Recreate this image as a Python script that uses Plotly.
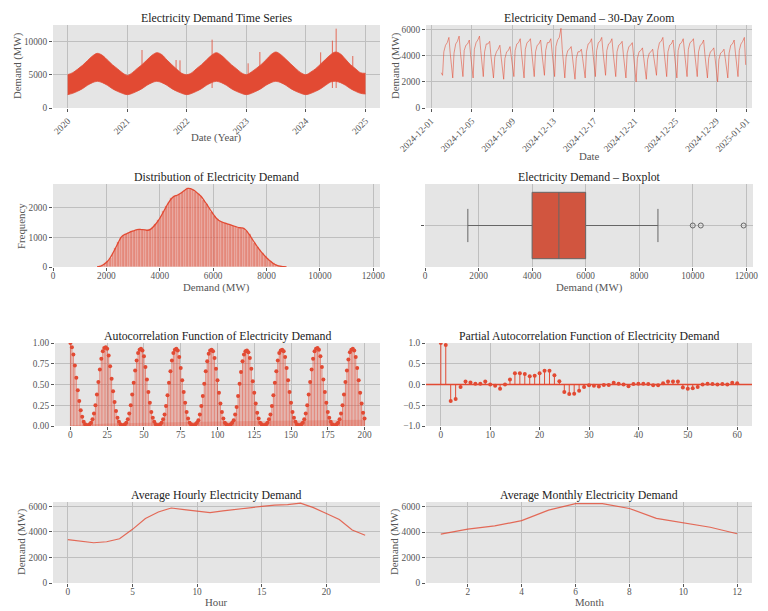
import numpy as np
import pandas as pd
import plotly.graph_objects as go
from plotly.subplots import make_subplots

# ---- data ----
# full time series: monthly envelope (first of each month, Jan 2020 .. Jan 2025)
env_months = pd.date_range("2020-01-01", "2025-01-01", freq="MS")
env_upper = [5000, 5300, 5800, 6400, 7100, 7800, 8200, 7900, 7200, 6500, 5900, 5300,
             4900, 5300, 5900, 6500, 7200, 7900, 8300, 8000, 7200, 6500, 5800, 5200,
             5000, 5300, 5900, 6500, 7200, 7900, 8300, 7900, 7200, 6500, 5900, 5300,
             5000, 5400, 5900, 6500, 7200, 8000, 8400, 8000, 7300, 6600, 5900, 5300,
             5000, 5400, 5900, 6600, 7300, 8000, 8400, 8100, 7300, 6500, 5900, 5300,
             5200]
env_lower = [2000, 2200, 2500, 2900, 3400, 3800, 4000, 3800, 3400, 2900, 2500, 2200,
             2000, 2200, 2500, 2900, 3400, 3800, 4000, 3800, 3400, 2900, 2500, 2200,
             2000, 2200, 2500, 2900, 3400, 3800, 4000, 3800, 3400, 2900, 2500, 2200,
             2000, 2200, 2500, 2900, 3400, 3800, 4000, 3800, 3400, 2900, 2500, 2200,
             2000, 2200, 2500, 2900, 3400, 3900, 4000, 3800, 3400, 2900, 2500, 2200,
             2100]
spike_dates = ["2021-04-01", "2021-10-27", "2021-11-20", "2022-06-05", "2023-01-12",
               "2023-03-25", "2024-04-01", "2024-06-12", "2024-07-05", "2024-10-15"]
spike_values = [8700, 7200, 7150, 10250, 6700, 8400, 8350, 10100, 11900, 7800]
year_ticks = ["2020", "2021", "2022", "2023", "2024", "2025"]

# 30-day zoom: per day readings at hours 0, 3, 6, 10, 14, 18, 21
zoom_first_day = "2024-12-02"
zoom_hours = [0, 3, 6, 10, 14, 18, 21]
zoom_days = [
    [2700, 2500, 4300, 4800, 5000, 5400, 4200],
    [3100, 2300, 4200, 4900, 5100, 5500, 4300],
    [3200, 2400, 4400, 4800, 4900, 5200, 4100],
    [3000, 2300, 4500, 5000, 5200, 5500, 4400],
    [3100, 2400, 4300, 4900, 4900, 5100, 4000],
    [2900, 2300, 3900, 4300, 4500, 4800, 3900],
    [2800, 2200, 3800, 4300, 4400, 4700, 3900],
    [3000, 2400, 4400, 4900, 5000, 5300, 4200],
    [3100, 2300, 4500, 5000, 5100, 5300, 4300],
    [3000, 2400, 4300, 4800, 4900, 5200, 4200],
    [3100, 2500, 4400, 5000, 5000, 5300, 4300],
    [3200, 2400, 4700, 5200, 5400, 6100, 4500],
    [3100, 2300, 3900, 4400, 4500, 4700, 3900],
    [2900, 2200, 3800, 4300, 4300, 4500, 3800],
    [2900, 2300, 4300, 4900, 5000, 5300, 4300],
    [3100, 2400, 4400, 5000, 5100, 5400, 4300],
    [3100, 2500, 4400, 4900, 5000, 5300, 4200],
    [3000, 2400, 4300, 4800, 4900, 5100, 4100],
    [3000, 2300, 4200, 4700, 4800, 5000, 4000],
    [2800, 2000, 3800, 4300, 4400, 4600, 3800],
    [2900, 2200, 3700, 4200, 4300, 4500, 3800],
    [3000, 2500, 4400, 5000, 5100, 5400, 4300],
    [3100, 2400, 4300, 4800, 4900, 5200, 4200],
    [3100, 2300, 4400, 4900, 5000, 5300, 4300],
    [3000, 2400, 4500, 5000, 5100, 5300, 4200],
    [3100, 2400, 4300, 4800, 4900, 5200, 4100],
    [2900, 2300, 3800, 4300, 4400, 4600, 3800],
    [2800, 2000, 3700, 4200, 4300, 4500, 3800],
    [2900, 2300, 4200, 4800, 4900, 5200, 4200],
    [3000, 2400, 4400, 4900, 5100, 5400, 3300],
]
zoom_tick_dates = ["2024-12-01", "2024-12-05", "2024-12-09", "2024-12-13", "2024-12-17",
                   "2024-12-21", "2024-12-25", "2024-12-29", "2025-01-01"]

# histogram (bin width 100 MW, bins start at 1600)
hist_start = 1600
hist_width = 100
hist_counts = [0, 20, 60, 120, 200, 320, 480, 650, 830, 1000,
               1080, 1120, 1160, 1200, 1230, 1260, 1270, 1260, 1250, 1240,
               1270, 1350, 1450, 1570, 1720, 1880, 2050, 2200, 2320, 2390,
               2420, 2470, 2530, 2600, 2650, 2640, 2600, 2540, 2460, 2380,
               2260, 2130, 1990, 1850, 1720, 1620, 1550, 1510, 1480, 1450,
               1420, 1390, 1360, 1330, 1320, 1300, 1220, 1100, 960, 820,
               690, 570, 460, 360, 270, 190, 120, 70, 40, 20, 10, 5]
demand_ticks = [0, 2000, 4000, 6000, 8000, 10000, 12000]

# boxplot stats
box_q1, box_median, box_q3 = 4000, 5000, 6000
box_low, box_high = 1600, 8700
box_outliers = [10000, 10300, 11900]

# ACF, lags 0..200 (rows of 24 lags)
acf_vals = [
    1.00, 0.95, 0.86, 0.73, 0.58, 0.43, 0.30, 0.19, 0.11, 0.05, 0.02, 0.01, 0.01, 0.02, 0.04, 0.08, 0.15, 0.25, 0.38, 0.53, 0.68, 0.81, 0.90, 0.94,
    0.95, 0.93, 0.85, 0.72, 0.57, 0.42, 0.29, 0.18, 0.10, 0.05, 0.02, 0.01, 0.01, 0.02, 0.04, 0.08, 0.15, 0.25, 0.38, 0.52, 0.67, 0.79, 0.88, 0.92,
    0.93, 0.91, 0.84, 0.71, 0.56, 0.41, 0.28, 0.17, 0.10, 0.05, 0.02, 0.01, 0.01, 0.02, 0.04, 0.08, 0.14, 0.24, 0.37, 0.52, 0.66, 0.79, 0.88, 0.92,
    0.93, 0.91, 0.83, 0.70, 0.55, 0.41, 0.28, 0.17, 0.09, 0.04, 0.02, 0.01, 0.01, 0.02, 0.04, 0.07, 0.14, 0.24, 0.36, 0.51, 0.66, 0.78, 0.87, 0.91,
    0.92, 0.90, 0.82, 0.69, 0.55, 0.40, 0.27, 0.17, 0.09, 0.04, 0.02, 0.01, 0.01, 0.02, 0.04, 0.07, 0.14, 0.23, 0.36, 0.51, 0.65, 0.78, 0.86, 0.90,
    0.91, 0.89, 0.82, 0.69, 0.54, 0.40, 0.27, 0.16, 0.09, 0.04, 0.02, 0.01, 0.01, 0.02, 0.04, 0.08, 0.14, 0.24, 0.37, 0.52, 0.66, 0.79, 0.88, 0.91,
    0.92, 0.90, 0.83, 0.70, 0.55, 0.41, 0.28, 0.17, 0.10, 0.05, 0.02, 0.01, 0.01, 0.02, 0.04, 0.08, 0.15, 0.25, 0.38, 0.53, 0.68, 0.81, 0.90, 0.93,
    0.94, 0.92, 0.84, 0.71, 0.56, 0.41, 0.28, 0.17, 0.10, 0.05, 0.02, 0.01, 0.01, 0.02, 0.04, 0.08, 0.15, 0.25, 0.38, 0.53, 0.67, 0.80, 0.89, 0.92,
    0.93, 0.91, 0.83, 0.70, 0.55, 0.40, 0.27, 0.16, 0.09,
]
acf_ci_lags = [0, 25, 50, 75, 100, 125, 150, 175, 200]
acf_ci_upper = [0.01, 0.03, 0.04, 0.05, 0.055, 0.06, 0.065, 0.07, 0.075]

# PACF, lags 0..60
pacf_vals = [1.00, 0.95, -0.40, -0.35, -0.06, 0.07, 0.05, 0.02, 0.02, 0.07,
             0.00, -0.03, -0.10, 0.00, 0.12, 0.27, 0.27, 0.25, 0.20, 0.21,
             0.27, 0.33, 0.33, 0.22, 0.08, -0.18, -0.23, -0.22, -0.15, -0.06,
             -0.02, -0.03, -0.05, -0.01, -0.01, 0.04, 0.02, 0.00, -0.04, 0.01,
             0.02, 0.02, 0.01, -0.02, -0.02, 0.03, 0.07, 0.07, 0.07, -0.07,
             -0.10, -0.09, -0.06, 0.00, 0.02, 0.01, 0.00, 0.01, 0.00, 0.04,
             0.03]

# averages
hours = list(range(24))
hourly_avg = [3400, 3300, 3150, 3230, 3460, 4200, 5050, 5560, 5870, 5740, 5640, 5510,
              5640, 5770, 5900, 6000, 6100, 6130, 6250, 5900, 5440, 4970, 4150, 3740]
months = list(range(1, 13))
monthly_avg = [3850, 4240, 4500, 4910, 5740, 6250, 6250, 5870, 5090, 4750, 4390, 3880]

# ---- styling ----
RED = "#E24A33"
BG = "#E5E5E5"
GRID = "#BFBFBF"
TXT = "#555555"
FONT = "Liberation Serif"

# the page body has an 8px default margin, so the figure is drawn 8px smaller
# and every pixel position below (page coordinates) is shifted by that offset
OFF = 8
W, H = 768 - OFF, 611 - OFF


def px_x(x):
    return (x - OFF) / W


def px_y(y):
    return 1 - (y - OFF) / H


# panel boxes in page pixels (left, right, top, bottom)
boxes = [
    (53, 380, 25, 108), (426, 752, 25, 108),
    (53, 380, 184, 267), (425, 753, 184, 267),
    (55, 380, 343, 426), (426, 752, 343, 426),
    (53, 380, 502, 583), (426, 752, 502, 583),
]
titles = ["Electricity Demand Time Series", "Electricity Demand \u2013 30-Day Zoom",
          "Distribution of Electricity Demand", "Electricity Demand \u2013 Boxplot",
          "Autocorrelation Function of Electricity Demand",
          "Partial Autocorrelation Function of Electricity Demand",
          "Average Hourly Electricity Demand", "Average Monthly Electricity Demand"]
# axis labels: (text, x px, y px) ; x labels horizontal, y labels rotated
xlabels = [("Date (Year)", 216, 137), ("Date", 589, 156), ("Demand (MW)", 216, 287),
           ("Demand (MW)", 589, 287), ("Hour", 216, 602), ("Month", 589, 602)]
ylabels = [("Demand (MW)", 17, 66), ("Demand (MW)", 395, 66), ("Frequency", 21, 226),
           ("Demand (MW)", 21, 542), ("Demand (MW)", 394, 542)]

fig = make_subplots(rows=4, cols=2)

# 1. full series: envelope band + spikes
sx, sy = [], []
for d, v in zip(spike_dates, spike_values):
    sx += [d, d, None]
    sy += [3000, v, None]
fig.add_trace(go.Scatter(x=sx, y=sy, mode="lines", line=dict(color=RED, width=0.8)),
              row=1, col=1)
fig.add_trace(go.Scatter(x=env_months, y=env_lower, mode="lines",
                         line=dict(color=RED, width=0.8, shape="spline")), row=1, col=1)
fig.add_trace(go.Scatter(x=env_months, y=env_upper, mode="lines", fill="tonexty",
                         fillcolor=RED, line=dict(color=RED, width=0.8, shape="spline")),
              row=1, col=1)

# 2. 30-day zoom
zx, zy = [], []
for i, day in enumerate(zoom_days):
    base = pd.Timestamp(zoom_first_day) + pd.Timedelta(days=i)
    for h, v in zip(zoom_hours, day):
        zx.append(base + pd.Timedelta(hours=h))
        zy.append(v)
fig.add_trace(go.Scatter(x=zx, y=zy, mode="lines",
                         line=dict(color="rgba(226,74,51,0.7)", width=0.8)), row=1, col=2)

# 3. histogram + kde
centers = [hist_start + hist_width * (i + 0.5) for i in range(len(hist_counts))]
fig.add_trace(go.Bar(x=centers, y=hist_counts, width=hist_width,
                     marker=dict(color="rgba(226,74,51,0.6)",
                                 line=dict(color="rgba(255,255,255,0.5)", width=0.4))),
              row=2, col=1)
fig.add_trace(go.Scatter(x=centers, y=hist_counts, mode="lines",
                         line=dict(color=RED, width=1.3, shape="spline")), row=2, col=1)

# 4. boxplot
fig.add_trace(go.Box(y=[0], q1=[box_q1], median=[box_median], q3=[box_q3],
                     lowerfence=[box_low], upperfence=[box_high], orientation="h",
                     width=0.8, whiskerwidth=0.5, fillcolor="#D1553F",
                     line=dict(color="#666666", width=1), boxpoints=False),
              row=2, col=2)
fig.add_trace(go.Scatter(x=box_outliers, y=[0] * len(box_outliers), mode="markers",
                         marker=dict(symbol="circle-open", size=5, color="#666666",
                                     line=dict(width=1))), row=2, col=2)

# 5. ACF
acf_lags = list(range(len(acf_vals)))
fig.add_trace(go.Scatter(x=acf_ci_lags, y=acf_ci_upper, mode="lines", fill="tozeroy",
                         fillcolor="rgba(226,74,51,0.25)", line=dict(width=0)),
              row=3, col=1)
ax_, ay_ = [], []
for l, v in zip(acf_lags, acf_vals):
    ax_ += [l, l, None]
    ay_ += [0, v, None]
fig.add_trace(go.Scatter(x=ax_, y=ay_, mode="lines",
                         line=dict(color="rgba(226,74,51,0.6)", width=1)), row=3, col=1)
fig.add_trace(go.Scatter(x=acf_lags, y=acf_vals, mode="markers",
                         marker=dict(color=RED, size=4)), row=3, col=1)

# 6. PACF
pacf_lags = list(range(len(pacf_vals)))
px_, py_ = [], []
for l, v in zip(pacf_lags, pacf_vals):
    px_ += [l, l, None]
    py_ += [0, v, None]
fig.add_trace(go.Scatter(x=[-5, 65], y=[0, 0], mode="lines",
                         line=dict(color=RED, width=1.5)), row=3, col=2)
fig.add_trace(go.Scatter(x=px_, y=py_, mode="lines",
                         line=dict(color=RED, width=1)), row=3, col=2)
fig.add_trace(go.Scatter(x=pacf_lags, y=pacf_vals, mode="markers",
                         marker=dict(color=RED, size=4)), row=3, col=2)

# 7/8. averages
fig.add_trace(go.Scatter(x=hours, y=hourly_avg, mode="lines",
                         line=dict(color="rgba(226,74,51,0.8)", width=1.2)), row=4, col=1)
fig.add_trace(go.Scatter(x=months, y=monthly_avg, mode="lines",
                         line=dict(color="rgba(226,74,51,0.8)", width=1.2)), row=4, col=2)

# axes
tickfont = dict(family=FONT, size=9.3, color=TXT)
common = dict(showgrid=True, gridcolor=GRID, gridwidth=0.8, zeroline=False,
              showline=False, ticks="outside", ticklen=3, tickcolor=TXT,
              tickfont=tickfont, automargin=False)
for i, (l, r, t, b) in enumerate(boxes):
    n = "" if i == 0 else str(i + 1)
    fig.layout["xaxis" + n].update(domain=[px_x(l), px_x(r)], ticklabelstandoff=-3,
                                   **common)
    fig.layout["yaxis" + n].update(domain=[px_y(b), px_y(t)], **common)
    fig.add_annotation(text=titles[i], x=px_x((l + r) / 2), y=px_y(t + 2),
                       xref="paper", yref="paper", xanchor="center", yanchor="bottom",
                       showarrow=False, font=dict(family=FONT, size=11.8, color="#222222"))
labfont = dict(family=FONT, size=10.8, color=TXT)
for txt, x, y in xlabels:
    fig.add_annotation(text=txt, x=px_x(x), y=px_y(y), xref="paper", yref="paper",
                       xanchor="center", yanchor="middle", showarrow=False, font=labfont)
for txt, x, y in ylabels:
    fig.add_annotation(text=txt, x=px_x(x), y=px_y(y), xref="paper", yref="paper",
                       xanchor="center", yanchor="middle", showarrow=False,
                       textangle=-90, font=labfont)

fig.update_xaxes(type="date", range=["2019-10-03", "2025-03-31"],
                 tickvals=[y + "-01-01" for y in year_ticks], ticktext=year_ticks,
                 tickangle=-45, ticklabelstandoff=0, row=1, col=1)
fig.update_yaxes(range=[0, 12450], tickvals=[0, 5000, 10000],
                 ticktext=["0", "5000", "10000"], row=1, col=1)

fig.update_xaxes(type="date", range=["2024-11-30 12:00", "2025-01-01 12:00"],
                 tickvals=zoom_tick_dates, ticktext=zoom_tick_dates, tickangle=-45,
                 ticklabelstandoff=0, row=1, col=2)
fig.update_yaxes(range=[0, 6350], tickvals=[0, 2000, 4000, 6000], row=1, col=2)

fig.update_xaxes(range=[0, 12250], tickvals=demand_ticks,
                 ticktext=[str(v) for v in demand_ticks], row=2, col=1)
fig.update_yaxes(range=[0, 2800], tickvals=[0, 1000, 2000], row=2, col=1)

fig.update_xaxes(range=[0, 12250], tickvals=demand_ticks,
                 ticktext=[str(v) for v in demand_ticks], row=2, col=2)
fig.update_yaxes(range=[-0.5, 0.5], tickvals=[0], ticktext=[""], row=2, col=2)

fig.update_xaxes(range=[-10.5, 210.5], tickvals=list(range(0, 201, 25)), row=3, col=1)
fig.update_yaxes(range=[0, 1.0], tickvals=[0, 0.25, 0.5, 0.75, 1.0], tickformat=".2f",
                 row=3, col=1)

fig.update_xaxes(range=[-3, 63], tickvals=list(range(0, 61, 10)), row=3, col=2)
fig.update_yaxes(range=[-1.0, 1.0], tickvals=[-1, -0.5, 0, 0.5, 1], tickformat=".1f",
                 row=3, col=2)

fig.update_xaxes(range=[-1.15, 24.15], tickvals=[0, 5, 10, 15, 20], row=4, col=1)
fig.update_yaxes(range=[0, 6340], tickvals=[0, 2000, 4000, 6000], row=4, col=1)

fig.update_xaxes(range=[0.45, 12.55], tickvals=[2, 4, 6, 8, 10, 12], row=4, col=2)
fig.update_yaxes(range=[0, 6380], tickvals=[0, 2000, 4000, 6000], row=4, col=2)

fig.update_layout(width=W, height=H, margin=dict(l=0, r=0, t=0, b=0),
                  paper_bgcolor="white", plot_bgcolor=BG, showlegend=False,
                  bargap=0, font=dict(family=FONT, color=TXT))

fig.write_html("out.html")
